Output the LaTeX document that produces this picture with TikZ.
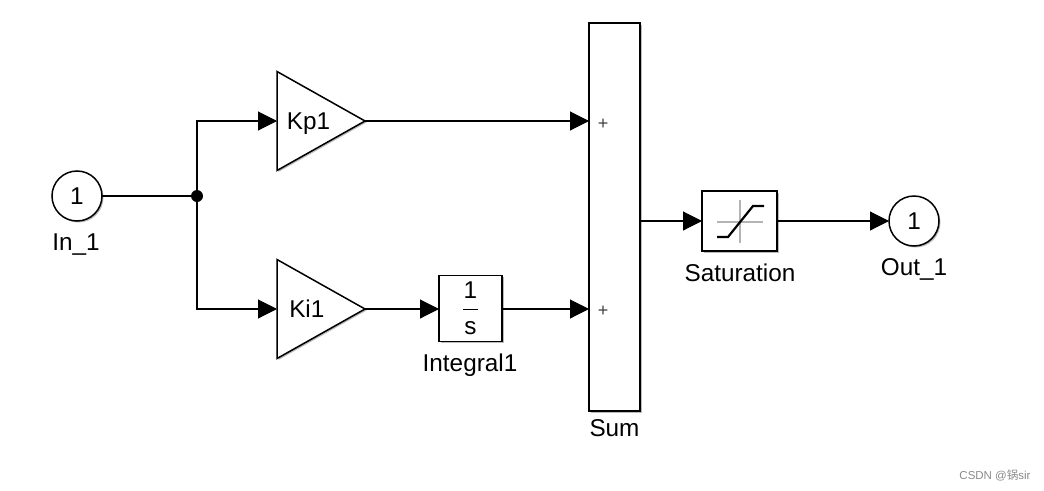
\documentclass[tikz,border=0pt]{standalone}
\usepackage{fontspec}
\setmainfont{Liberation Sans}
\newfontfamily\cjkfont{Noto Sans CJK SC}
\usepackage{xcolor}
\definecolor{clShadow}{HTML}{555555}
\definecolor{clIcon}{HTML}{B4B4B4}
\definecolor{clMark}{HTML}{8A8A8A}
\usepackage{tikz}
\usetikzlibrary{arrows.meta,positioning,calc,shapes.geometric,shadows}
\tikzset{
  shade/.style={drop shadow={shadow xshift=1.5pt, shadow yshift=-1.5pt, opacity=.4, fill=clShadow}},
  blocktxt/.style={font=\fontsize{24.3}{27}\selectfont, inner sep=0pt, outer sep=0pt},
  block/.style={rectangle, draw=black, fill=white, line width=1.5pt, shade, blocktxt},
  port/.style={circle, draw=black, fill=white, line width=1.5pt, shade, blocktxt, minimum size=50pt},
  gain/.style={isosceles triangle, isosceles triangle stretches=true, shape border rotate=0,
               minimum width=99pt, minimum height=88pt, draw=black, fill=white,
               line width=1.5pt, shade, blocktxt, anchor=lower side},
  blockname/.style={blocktxt},
  signs/.style={font=\fontsize{18}{20}\selectfont, inner sep=0pt, text=black!75},
  junc/.style={circle, fill=black, inner sep=0pt, minimum size=12pt},
  wire/.style={-{Triangle[length=19pt,width=19pt]}, line width=1.1pt},
  iconaxis/.style={draw=clIcon, line width=1.8pt},
  iconcurve/.style={draw=black, line width=2.2pt},
}
\begin{document}
\begin{tikzpicture}[x=1pt, y=-1pt, node distance=0pt]
  \useasboundingbox (0,0) rectangle (1044,490);
  \node[port] (in1) at (77,196) {1};
  \node[blockname] (in1name) at (76,245) {In\_1};
  \node[junc] (split) at (197,196) {};
  \node[gain] (kp1) at (277,121) {\raisebox{0pt}[\height][0pt]{Kp1}};
  \node[gain] (ki1) at (277,309) {Ki1};
  \node[block, minimum width=63pt, minimum height=66pt] (integ) at (470.5,308.5) {};
  \node[blocktxt] (integnum) at (470.5,290) {1};
  \node[blocktxt] (integden) at (470.5,328) {s};
  \node[blockname] (integname) at (470,365) {Integral1};
  \node[block, minimum width=51pt, minimum height=388pt] (sum) at (614.5,217) {};
  \node[signs] (plus1) at (603,124) {+};
  \node[signs] (plus2) at (603,311) {+};
  \node[blockname] (sumname) at (614.5,428) {Sum};
  \node[block, minimum width=75pt, minimum height=60pt] (sat) at (739.5,221) {};
  \node[blockname] (satname) at (740,273) {Saturation};
  \node[port] (out1) at (914,221) {1};
  \node[blockname] (out1name) at (914,269) {Out\_1};
  \node[font=\fontsize{11.5}{13}\selectfont, text=clMark, inner sep=0pt] (mark) at (995,475) {CSDN @{\cjkfont 锅}sir};
  % icons
  \draw[black, line width=1pt] (463,309) -- (478,309);
  \draw[iconaxis] (717,222) -- (763,222);
  \draw[iconaxis] (740,200) -- (740,243);
  \draw[iconcurve] (717,237) -- (728,237) -- (753,206) -- (764,206);
  % wires
  \draw[line width=1.1pt] (in1) -- (split);
  \draw[wire] (split) |- (kp1.lower side);
  \draw[wire] (split) |- (ki1.lower side);
  \draw[wire] (kp1.apex) -- (kp1.apex -| sum.west);
  \draw[wire] (ki1.apex) -- (ki1.apex -| integ.west);
  \draw[wire] (integ.east |- ki1.apex) -- (ki1.apex -| sum.west);
  \draw[wire] (sat -| sum.east) -- (sat);
  \draw[wire] (sat) -- (out1);
\end{tikzpicture}
\end{document}
